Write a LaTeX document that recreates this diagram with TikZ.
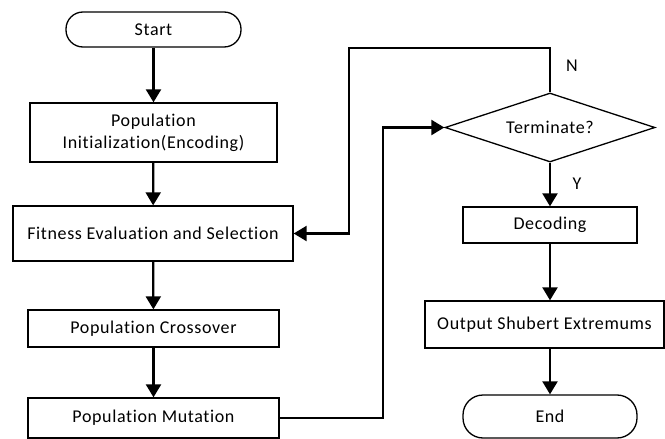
\documentclass[tikz,border=0pt]{standalone}
\usepackage{fontspec}
\setmainfont[Ligatures={NoCommon},LetterSpace=3.5]{Carlito}
\usetikzlibrary{shapes.geometric,arrows.meta}
\begin{document}
\begin{tikzpicture}[x=1pt,y=-1pt,
  txt/.style={font=\fontsize{18}{22}\selectfont},
  box/.style={draw,line width=1.3pt,inner sep=0pt,align=center,txt},
  term/.style={box,rounded corners=17pt},
  decision/.style={box,diamond,aspect=3},
  arr/.style={line width=2.2pt,-{Triangle[length=13pt,width=15pt]}}]
\useasboundingbox (0,0) rectangle (665,439);
\node[term, minimum width=175pt, minimum height=35pt] (start) at (153.5,29.5) {Start};
\node[box, minimum width=247pt, minimum height=59pt] (init) at (153.5,132.5) {Population\\Initialization(Encoding)};
\node[box, minimum width=280pt, minimum height=55pt] (fit) at (153,233.5) {Fitness Evaluation and Selection};
\node[box, minimum width=251pt, minimum height=37pt] (cross) at (153.5,328.5) {Population Crossover};
\node[box, minimum width=251pt, minimum height=40pt] (mut) at (153.5,418) {Population Mutation};
\node[decision, minimum width=210pt, minimum height=69pt] (dia) at (550,127.5) {Terminate?};
\node[box, minimum width=174pt, minimum height=36pt] (dec) at (550,225) {Decoding};
\node[box, minimum width=239pt, minimum height=47pt] (out) at (544.5,324.5) {Output Shubert Extremums};
\node[term, minimum width=174pt, minimum height=43pt, rounded corners=20pt] (end) at (550,416.5) {End};
\coordinate (c1) at (383,418);
\coordinate (n1) at (550,48);
\coordinate (n2) at (349,48);
\draw[arr] (start) -- (init);
\draw[arr] (init) -- (fit);
\draw[arr] (fit) -- (cross);
\draw[arr] (cross) -- (mut);
\draw[arr] (mut.east) -- (c1) |- (dia.west);
\draw[arr] (dia.north) -- (n1) -- (n2) |- (fit.east);
\draw[arr] (dia.south) -- (dec.north);
\draw[arr] (dec.south) -- (dec.south |- out.north);
\draw[arr] (dec.south |- out.south) -- (end.north);
\node[txt] (nlab) at (572,66) {N};
\node[txt] (ylab) at (577,184) {Y};
\end{tikzpicture}
\end{document}
